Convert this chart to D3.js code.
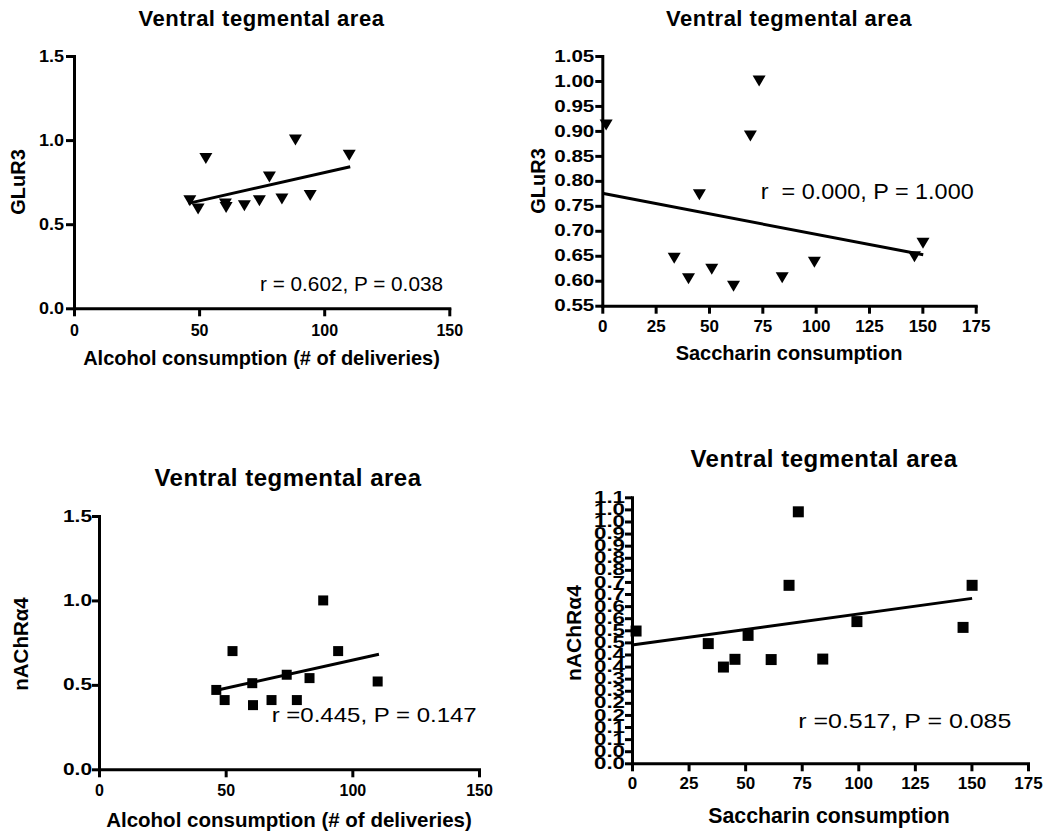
<!DOCTYPE html>
<html>
<head>
<meta charset="utf-8">
<script src="https://cdn.jsdelivr.net/npm/d3@7"></script>
<style>
  body { margin: 0; background: #fff; }
  svg { display: block; font-family: "Liberation Sans", Arial, sans-serif; }
</style>
</head>
<body>
<svg id="chart" width="1044" height="833"></svg>
<script>
// alcohol consumption (# of deliveries), one value per animal
const alcoholX = [46.3, 49.6, 52.7, 60.5, 60.8, 68.1, 74.1, 78.1, 83.1, 88.5, 94.4, 110];
const glur3Alcohol = [0.64, 0.59, 0.89, 0.62, 0.60, 0.61, 0.64, 0.78, 0.65, 1.00, 0.67, 0.91];
const nachrAlcohol = [0.47, 0.41, 0.70, 0.51, 0.38, 0.41, 0.56, 0.41, 0.54, 1.00, 0.70, 0.52];

// saccharin consumption
const saccharinX = [1.8, 33.7, 40.4, 45.5, 51.3, 61.5, 69.4, 73.5, 84.3, 99.4, 146.3, 150.3];
const glur3Saccharin = [0.912, 0.645, 0.604, 0.772, 0.623, 0.589, 0.890, 1.000, 0.606, 0.637, 0.648, 0.675];
const nachrSaccharin = [0.547, 0.495, 0.398, 0.430, 0.529, 0.429, 0.736, 1.040, 0.431, 0.586, 0.562, 0.736];

// regression lines (end points)
const fitGlur3Alcohol = [[45.7, 0.624], [110.4, 0.842]];
const fitGlur3Saccharin = [[0, 0.775], [150.4, 0.652]];
const fitNachrAlcohol = [[45.1, 0.464], [110.5, 0.681]];
const fitNachrSaccharin = [[0, 0.489], [150.3, 0.682]];

// ticks
const alcoholTicks = [0, 50, 100, 150];
const saccharinTicks = [0, 25, 50, 75, 100, 125, 150, 175];
const wideYTicks = [0, 0.5, 1.0, 1.5];
const glur3SaccharinTicks = [0.55, 0.60, 0.65, 0.70, 0.75, 0.80, 0.85, 0.90, 0.95, 1.00, 1.05];
const nachrSaccharinTicks = [0, 0.05, 0.1, 0.15, 0.2, 0.25, 0.3, 0.35, 0.4, 0.45, 0.5, 0.55,
  0.6, 0.65, 0.7, 0.75, 0.8, 0.85, 0.9, 0.95, 1.0, 1.05, 1.1];

const title = "Ventral tegmental area";
const alcoholLabel = "Alcohol consumption (# of deliveries)";
const saccharinLabel = "Saccharin consumption";

const svg = d3.select("#chart");
svg.append("rect").attr("width", 1044).attr("height", 833).attr("fill", "#fff");

const triangle = "M-6.5,-5.5L6.5,-5.5L0,5.5Z";

function drawPanel(p) {
  const x = d3.scaleLinear().domain(p.xDomain).range([p.left, p.right]);
  const y = d3.scaleLinear().domain(p.yDomain).range([p.bottom, p.top]);
  const g = svg.append("g");

  const xAxis = g.append("g")
    .attr("transform", `translate(0,${p.bottom})`)
    .call(d3.axisBottom(x).tickValues(p.xTicks).tickSize(8).tickSizeOuter(0).tickPadding(p.xPad));
  xAxis.selectAll("text").attr("font-size", p.xTickSize);

  const yAxis = g.append("g")
    .attr("transform", `translate(${p.left},0)`)
    .call(d3.axisLeft(y).tickValues(p.yTicks).tickSize(p.yTickLen).tickSizeOuter(0)
      .tickPadding(p.yPad).tickFormat(p.yFormat));
  yAxis.selectAll("text")
    .attr("font-size", p.yTickSize)
    .attr("textLength", p.yTickWidth)
    .attr("lengthAdjust", "spacingAndGlyphs");

  g.selectAll(".domain").attr("stroke-width", 3).attr("stroke-linecap", "square");
  g.selectAll(".tick line").attr("stroke-width", 3);
  g.selectAll(".tick text").attr("font-weight", "bold").attr("fill", "#000");
  g.selectAll(".domain, .tick line").attr("stroke", "#000");

  g.append("path")
    .datum(p.fit)
    .attr("fill", "none")
    .attr("stroke", "#000")
    .attr("stroke-width", 3)
    .attr("d", d3.line().x(d => x(d[0])).y(d => y(d[1])));

  const pts = p.xs.map((v, i) => [v, p.ys[i]]);
  g.selectAll(".pt")
    .data(pts)
    .join("path")
    .attr("class", "pt")
    .attr("transform", d => `translate(${x(d[0])},${y(d[1])})`)
    .attr("d", p.marker)
    .attr("fill", "#000");

  g.append("text")
    .attr("x", p.title[0]).attr("y", p.title[1])
    .attr("text-anchor", "middle")
    .attr("font-weight", "bold")
    .attr("font-size", p.title[2])
    .attr("letter-spacing", "0.5px")
    .text(title);

  g.append("text")
    .attr("x", p.xLabel[0]).attr("y", p.xLabel[1])
    .attr("text-anchor", "middle")
    .attr("font-weight", "bold")
    .attr("font-size", p.xLabel[2])
    .text(p.xText);

  g.append("text")
    .attr("transform", `translate(${p.yLabel[0]},${p.yLabel[1]}) rotate(-90)`)
    .attr("text-anchor", "middle")
    .attr("font-weight", "bold")
    .attr("font-size", p.yLabel[2])
    .text(p.yText);

  g.append("text")
    .attr("x", p.note[0]).attr("y", p.note[1])
    .attr("font-size", p.note[2])
    .attr("textLength", p.note[3])
    .attr("lengthAdjust", "spacingAndGlyphs")
    .style("white-space", "pre")
    .text(p.noteText);
}

const floor1 = v => (Math.floor(v * 10 + 1e-6) / 10).toFixed(1);

drawPanel({
  left: 74, right: 449.3, top: 56, bottom: 308.3,
  xDomain: [0, 150], yDomain: [0, 1.5],
  xTicks: alcoholTicks, yTicks: wideYTicks, yFormat: d3.format(".1f"),
  xPad: 8.5, yPad: 2, yTickLen: 8, xTickSize: 16, yTickSize: 16, yTickWidth: 25,
  xs: alcoholX, ys: glur3Alcohol, fit: fitGlur3Alcohol, marker: triangle,
  title: [261.5, 26, 22], xLabel: [261.5, 365, 20], yLabel: [25, 182, 20],
  xText: alcoholLabel, yText: "GLuR3",
  note: [260, 290.7, 20, 183], noteText: "r = 0.602, P = 0.038"
});

drawPanel({
  left: 602.3, right: 975.7, top: 56, bottom: 305.7,
  xDomain: [0, 175], yDomain: [0.55, 1.05],
  xTicks: saccharinTicks, yTicks: glur3SaccharinTicks, yFormat: d3.format(".2f"),
  xPad: 6.3, yPad: 1, yTickLen: 7, xTickSize: 17, yTickSize: 16, yTickWidth: 40,
  xs: saccharinX, ys: glur3Saccharin, fit: fitGlur3Saccharin, marker: triangle,
  title: [789, 26, 22], xLabel: [789, 360, 20], yLabel: [545, 181, 20],
  xText: saccharinLabel, yText: "GLuR3",
  note: [760.7, 199.3, 22, 213], noteText: "r  = 0.000, P = 1.000"
});

drawPanel({
  left: 99, right: 479, top: 516, bottom: 769.3,
  xDomain: [0, 150], yDomain: [0, 1.5],
  xTicks: alcoholTicks, yTicks: wideYTicks, yFormat: d3.format(".1f"),
  xPad: 7.7, yPad: 0, yTickLen: 7, xTickSize: 16, yTickSize: 16, yTickWidth: 29,
  xs: alcoholX, ys: nachrAlcohol, fit: fitNachrAlcohol, marker: d3.symbol(d3.symbolSquare, 100)(),
  title: [288, 486, 24], xLabel: [289, 826.7, 20.5], yLabel: [28, 644, 20.5],
  xText: alcoholLabel, yText: "nAChRα4",
  note: [271.7, 721.7, 21, 205], noteText: "r =0.445, P = 0.147"
});

drawPanel({
  left: 632, right: 1028, top: 497.3, bottom: 763.3,
  xDomain: [0, 175], yDomain: [0, 1.1],
  xTicks: saccharinTicks, yTicks: nachrSaccharinTicks, yFormat: floor1,
  xPad: 5.4, yPad: 0, yTickLen: 7, xTickSize: 17, yTickSize: 16, yTickWidth: 31,
  xs: saccharinX, ys: nachrSaccharin, fit: fitNachrSaccharin, marker: d3.symbol(d3.symbolSquare, 121)(),
  title: [824, 467, 24], xLabel: [829, 823.3, 21.3], yLabel: [581, 633, 21],
  xText: saccharinLabel, yText: "nAChRα4",
  note: [798.3, 728.3, 21, 213], noteText: "r =0.517, P = 0.085"
});
</script>
</body>
</html>
